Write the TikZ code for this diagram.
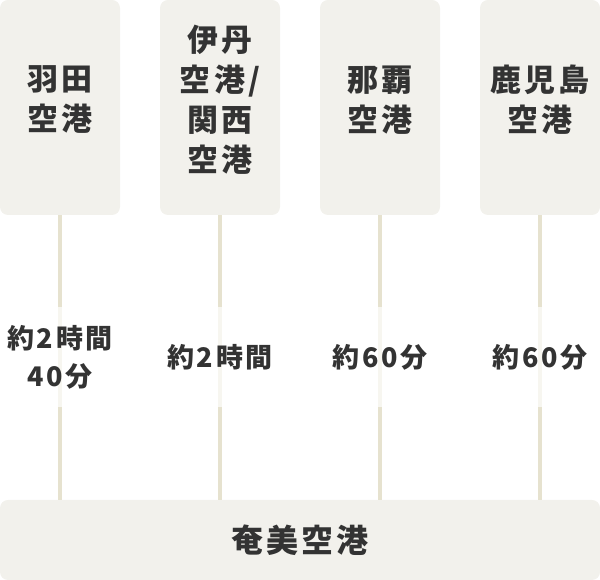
\documentclass[tikz,border=0pt]{standalone}
\usepackage{fontspec}
\setmainfont{Noto Sans CJK JP}
\newfontfamily\jpwide{Noto Sans CJK JP}[LetterSpace=10]
\definecolor{airbox}{HTML}{F2F1EC}
\definecolor{airline}{HTML}{E6E2CF}
\definecolor{airtext}{HTML}{333333}
\usepackage{tikz}
\usetikzlibrary{positioning,calc}

\begin{document}
\begin{tikzpicture}[x=1pt,y=1pt,
      port/.style={rectangle,rounded corners=8pt,fill=airbox,minimum width=120pt,
                   minimum height=215pt,inner sep=0pt},
      portname/.style={align=center,text=airtext,inner sep=0pt,
                   font=\jpwide\fontsize{31}{40}\selectfont\bfseries},
      route/.style={draw=airline,line width=4pt},
      time/.style={fill=white,fill opacity=0.7,text opacity=1,text=airtext,
                   minimum width=110pt,minimum height=100pt,inner sep=0pt,align=center,
                   font=\jpwide\fontsize{27}{38}\selectfont\bfseries}]
      \useasboundingbox (0,0) rectangle (600,580);

      % Ausgangsflughaefen
      \node[port] (haneda)    at (60,472.5)  {};
      \node[port] (itami)     at (220,472.5) {};
      \node[port] (naha)      at (380,472.5) {};
      \node[port] (kagoshima) at (540,472.5) {};
      \node[portname] (haneda-t)    at ([yshift=7.5]haneda.center)    {羽田\\空港};
      \node[portname] (itami-t)     at ([yshift=7.5]itami.center)     {伊丹\\空港/\\関西\\空港};
      \node[portname] (naha-t)      at ([yshift=7.5]naha.center)      {那覇\\空港};
      \node[portname] (kagoshima-t) at ([yshift=7.5]kagoshima.center) {鹿児島\\空港};

      % Ziel
      \node[port,minimum width=600pt,minimum height=80pt] (amami) at (300,40) {};
      \node[portname,font=\jpwide\fontsize{32}{40}\selectfont\bfseries] (amami-t)
        at (amami.center) {奄美空港};

      % Strecken
      \foreach \p in {haneda,itami,naha,kagoshima}{
        \draw[route] (\p.south) -- (\p.south |- amami.north);
      }

      % Flugzeiten
      \node[time] (t1) at (60,222.5)  {約2時間\\40分};
      \node[time] (t2) at (220,222.5) {約2時間};
      \node[time] (t3) at (380,222.5) {約60分};
      \node[time] (t4) at (540,222.5) {約60分};
    \end{tikzpicture}
\end{document}
